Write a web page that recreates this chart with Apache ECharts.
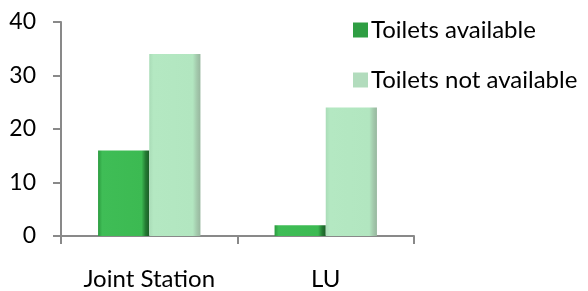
<!DOCTYPE html>
<html>
<head>
<meta charset="utf-8">
<script src="https://cdn.jsdelivr.net/npm/echarts@6/dist/echarts.min.js"></script>
<style>
  html, body { margin: 0; padding: 0; background: #fff; }
  #chart { width: 588px; height: 291px; }
</style>
</head>
<body>
<div id="chart"></div>
<script>
var categories = ['Joint Station', 'LU'];
var available = [16, 2];
var notAvailable = [34, 24];
var yTicks = [0, 10, 20, 30, 40];

function hGrad(stops) {
    return {
        type: 'linear', x: 0, y: 0, x2: 1, y2: 0,
        colorStops: stops
    };
}

var darkFill = hGrad([
    {offset: 0, color: '#2a9a3e'},
    {offset: 0.08, color: '#3fbd56'},
    {offset: 0.85, color: '#3cba52'},
    {offset: 0.93, color: '#237a32'},
    {offset: 1, color: '#1b5e27'}
]);
var lightFill = hGrad([
    {offset: 0, color: '#a9dcb7'},
    {offset: 0.08, color: '#b4e8c2'},
    {offset: 0.85, color: '#b2e6c0'},
    {offset: 0.93, color: '#a3c9ac'},
    {offset: 1, color: '#97b79e'}
]);

var chart = echarts.init(document.getElementById('chart'));
var option = {
    animation: false,
    textStyle: { fontFamily: 'Lato' },
    grid: { left: 61, right: 174, top: 22, bottom: 52 },
    legend: {
        orient: 'vertical',
        left: 348,
        top: 13,
        itemWidth: 15,
        itemHeight: 15,
        itemGap: 26,
        icon: 'rect',
        textStyle: { fontFamily: 'Lato', fontSize: 24, lineHeight: 24, color: '#000', padding: [0, 0, 0, -2] },
        data: [
            { name: 'Toilets available', itemStyle: { color: '#2f9e43' } },
            { name: 'Toilets not available', itemStyle: { color: '#b2dcbd' } }
        ]
    },
    xAxis: {
        type: 'category',
        data: categories,
        axisLine: { lineStyle: { color: '#898989', width: 2 } },
        axisTick: { show: true, length: 8, lineStyle: { color: '#898989', width: 2 } },
        axisLabel: { color: '#000', fontSize: 24, margin: 31, fontFamily: 'Lato' }
    },
    yAxis: {
        type: 'value',
        min: 0,
        max: 40,
        interval: 10,
        splitLine: { show: false },
        axisLine: { show: true, lineStyle: { color: '#898989', width: 2 } },
        axisTick: { show: true, length: 8, lineStyle: { color: '#898989', width: 2 } },
        axisLabel: {
            color: '#000', fontSize: 23, margin: 25, fontFamily: 'Lato',
            formatter: function (v) { return yTicks.indexOf(v) >= 0 ? String(v) : ''; }
        }
    },
    series: [
        {
            name: 'Toilets available',
            type: 'bar',
            data: available,
            barGap: '0%',
            barCategoryGap: '42%',
            itemStyle: { color: darkFill }
        },
        {
            name: 'Toilets not available',
            type: 'bar',
            data: notAvailable,
            barGap: '0%',
            barCategoryGap: '42%',
            itemStyle: { color: lightFill }
        }
    ]
};
chart.setOption(option);
</script>
</body>
</html>
